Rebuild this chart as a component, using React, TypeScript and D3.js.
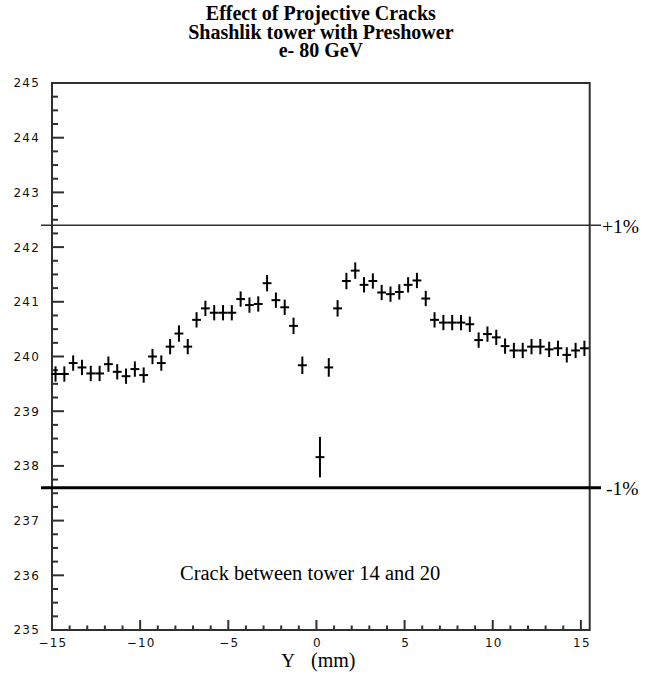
import React from "react";
import * as d3 from "d3";

const titleLines = ["Effect of Projective Cracks", "Shashlik tower with Preshower", "e- 80 GeV"];
const xTickValues = [-15, -10, -5, 0, 5, 10, 15];
const yTickValues = [235, 236, 237, 238, 239, 240, 241, 242, 243, 244, 245];
const xPositions = [
  -14.8, -14.3, -13.8, -13.3, -12.8, -12.3, -11.8, -11.3, -10.8, -10.3,
  -9.8, -9.3, -8.8, -8.3, -7.8, -7.3, -6.8, -6.3, -5.8, -5.3,
  -4.8, -4.3, -3.8, -3.3, -2.8, -2.3, -1.8, -1.3, -0.8, 0.2,
  0.7, 1.2, 1.7, 2.2, 2.7, 3.2, 3.7, 4.2, 4.7, 5.2,
  5.7, 6.2, 6.7, 7.2, 7.7, 8.2, 8.7, 9.2, 9.7, 10.2,
  10.7, 11.2, 11.7, 12.2, 12.7, 13.2, 13.7, 14.2, 14.7, 15.2,
];
const energies = [
  239.68, 239.68, 239.88, 239.8, 239.69, 239.69, 239.86, 239.72, 239.64, 239.77,
  239.66, 240.0, 239.88, 240.18, 240.42, 240.18, 240.67, 240.88, 240.8, 240.8,
  240.8, 241.05, 240.94, 240.96, 241.34, 241.03, 240.9, 240.56, 239.84, 238.16,
  239.8, 240.88, 241.38, 241.57, 241.31, 241.38, 241.17, 241.14, 241.18, 241.31,
  241.39, 241.06, 240.67, 240.62, 240.62, 240.62, 240.59, 240.3, 240.41, 240.35,
  240.19, 240.11, 240.11, 240.18, 240.18, 240.13, 240.15, 240.03, 240.11, 240.15,
];
const errors = [
  0.14, 0.14, 0.14, 0.14, 0.14, 0.14, 0.14, 0.14, 0.14, 0.14,
  0.14, 0.14, 0.14, 0.14, 0.15, 0.14, 0.14, 0.14, 0.14, 0.14,
  0.14, 0.14, 0.14, 0.14, 0.15, 0.14, 0.14, 0.15, 0.16, 0.37,
  0.17, 0.15, 0.15, 0.15, 0.14, 0.14, 0.14, 0.14, 0.14, 0.14,
  0.14, 0.14, 0.14, 0.14, 0.14, 0.14, 0.14, 0.14, 0.14, 0.14,
  0.14, 0.14, 0.14, 0.14, 0.14, 0.14, 0.14, 0.14, 0.14, 0.14,
];
const binHalfWidth = 0.25;
const referenceLevels = [
  { label: "+1%", value: 242.4 },
  { label: "-1%", value: 237.6 },
];
const xAxisTitle = "Y";
const xAxisUnit = "(mm)";
const annotation = "Crack between tower 14 and 20";

export default function App() {
  const W = 656;
  const H = 675;
  const left = 52;
  const right = 589.7;
  const top = 83;
  const bottom = 630;
  const x = d3.scaleLinear().domain([-15, 15.5]).range([left, right]);
  const y = d3.scaleLinear().domain([235, 245]).range([bottom, top]);

  const yMinor = d3.range(235, 245.001, 0.25).filter((v) => Math.abs(v - Math.round(v)) > 1e-6);
  const xMinor = d3.range(-15, 15.5, 1).filter((v) => v % 5 !== 0);
  const axisFont = "'DejaVu Sans', sans-serif";
  const serif = "'Liberation Serif', 'Times New Roman', serif";
  const frameColor = "#303030";

  return (
    <svg
      width={W}
      height={H}
      style={{ position: "absolute", left: 0, top: 0, display: "block", background: "#fff" }}
    >
      <rect x={0} y={0} width={W} height={H} fill="#fff" />
      {titleLines.map((t, i) => (
        <text
          key={t}
          x={(left + right) / 2}
          y={20 + i * 18.5}
          textAnchor="middle"
          fontFamily={serif}
          fontWeight="bold"
          fontSize={20}
          fill="#000"
        >
          {t}
        </text>
      ))}

      {/* frame */}
      <rect x={left} y={top} width={right - left} height={bottom - top} fill="none" stroke={frameColor} strokeWidth={2} />

      {/* y ticks */}
      {yTickValues.map((v) => (
        <g key={"yt" + v}>
          <line x1={left} x2={left + 12} y1={y(v)} y2={y(v)} stroke={frameColor} strokeWidth={2} />
          <text
            x={40}
            y={y(v) + 4.4}
            textAnchor="end"
            fontFamily={axisFont}
            fontSize={12}
            letterSpacing={1.2}
            fill="#111"
          >
            {v}
          </text>
        </g>
      ))}
      {yMinor.map((v) => (
        <line key={"ym" + v} x1={left} x2={left + 6} y1={y(v)} y2={y(v)} stroke={frameColor} strokeWidth={2} />
      ))}

      {/* x ticks */}
      {xTickValues.map((v) => (
        <g key={"xt" + v}>
          <line x1={x(v)} x2={x(v)} y1={bottom} y2={bottom - 10} stroke={frameColor} strokeWidth={2} />
          <text
            x={x(v) + 1}
            y={647}
            textAnchor="middle"
            fontFamily={axisFont}
            fontSize={12}
            letterSpacing={1.2}
            fill="#111"
          >
            {v < 0 ? "\u2212" + Math.abs(v) : String(v)}
          </text>
        </g>
      ))}
      {xMinor.map((v) => (
        <line key={"xm" + v} x1={x(v)} x2={x(v)} y1={bottom} y2={bottom - 4.5} stroke={frameColor} strokeWidth={2} />
      ))}

      {/* reference lines */}
      {referenceLevels.map((r, i) => (
        <g key={r.label}>
          <line
            x1={41}
            x2={601}
            y1={y(r.value)}
            y2={y(r.value)}
            stroke={i === 0 ? frameColor : "#000"}
            strokeWidth={i === 0 ? 1.6 : 3}
          />
          <text
            x={i === 0 ? 602 : 606}
            y={y(r.value) + 7.5}
            fontFamily={serif}
            fontSize={19.5}
            fill="#000"
          >
            {r.label}
          </text>
        </g>
      ))}

      {/* data crosses */}
      {xPositions.map((xv, i) => (
        <g key={"p" + i} stroke="#000" strokeWidth={2}>
          <line x1={x(xv - binHalfWidth)} x2={x(xv + binHalfWidth)} y1={y(energies[i])} y2={y(energies[i])} />
          <line x1={x(xv)} x2={x(xv)} y1={y(energies[i] - errors[i])} y2={y(energies[i] + errors[i])} />
        </g>
      ))}

      {/* annotation */}
      <text x={180} y={580} fontFamily={serif} fontSize={20.5} fill="#000">
        {annotation}
      </text>

      {/* axis title */}
      <text x={288} y={667} textAnchor="middle" fontFamily={serif} fontSize={19} fill="#000">
        {xAxisTitle}
      </text>
      <text x={311} y={667} fontFamily={serif} fontSize={20} fill="#000">
        {xAxisUnit}
      </text>
    </svg>
  );
}
